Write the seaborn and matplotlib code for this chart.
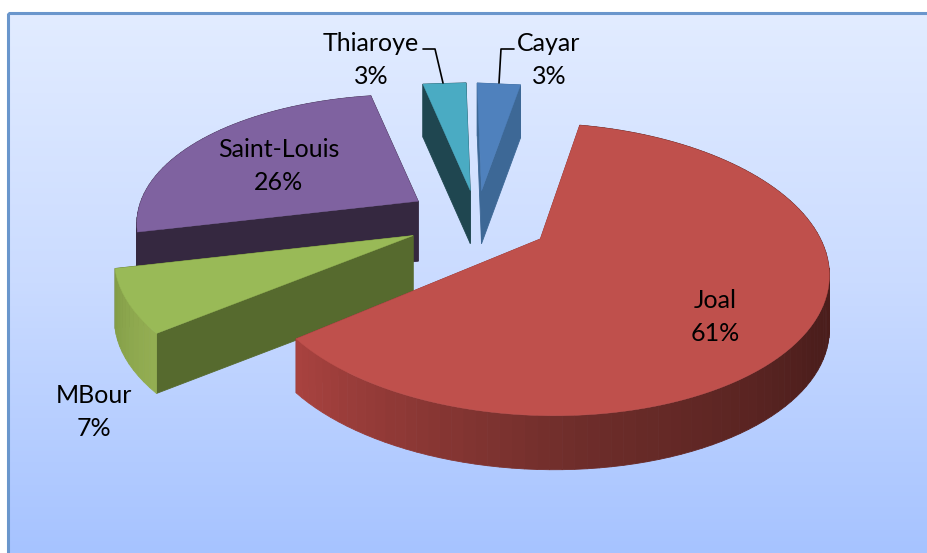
import numpy as np
import matplotlib
matplotlib.use("Agg")
import matplotlib.pyplot as plt
from matplotlib.patches import Rectangle
import seaborn as sns

# Data
labels = ["Joal", "MBour", "Saint-Louis", "Thiaroye", "Cayar"]
values = [61, 7, 26, 3, 3]

# Slice look
top_colors = ["#BF504C", "#99BA57", "#7F62A0", "#4AABC3", "#4F81BD"]
cut_colors = ["#8C3A38", "#566A2E", "#352840", "#1F4650", "#3D6896"]
wall_stops = [
    ["#451B19", "#451B19", "#4C1E1C", "#6E2D2A", "#A8423F"],
    ["#93AE52", "#849E48"],
    ["#352840", "#352840"],
    ["#1F4650", "#1F4650"],
    ["#3D6896", "#3D6896"],
]
explode = [0.25, 0.25, 0.25, 0.22, 0.22]
scale_x = [0.99, 1.04, 0.98, 0.98, 0.98]
scale_y = [1.0, 0.98, 0.92, 0.93, 0.93]
depth = [54, 60, 60, 53, 53]
draw_order = [2, 1, 3, 4, 0]

# Pie geometry in pixels
start_deg = 12
cx, cy = 477, 220
rx, ry = 283, 140
persp = 0.208
shear = 0.08

sns.set_theme(style="white")
plt.rcParams["font.family"] = ["Lato", "DejaVu Sans"]

fig = plt.figure(figsize=(9.27, 5.53), dpi=100)
ax = fig.add_axes([0, 0, 1, 1])

# Chart area with the blue gradient
grad = np.array(sns.blend_palette(["#E2ECFF", "#CADBFF", "#A6C3FF"], 256))[:, None, :]
ax.imshow(grad, extent=[8, 927, 553, 13], aspect="auto", zorder=0)
ax.add_patch(Rectangle((8, 13), 930, 560, fill=False, ec="#6A96CC", lw=2.2, zorder=1))
ax.set_xlim(0, 927)
ax.set_ylim(553, 0)
ax.axis("off")


def project(deg, r=1.0):
    phi = np.radians(deg)
    u, v = r * np.sin(phi), -r * np.cos(phi)
    w = 1 - persp * v
    x, y = rx * u / w, ry * v / w
    return x + shear * y, y


def quad(xa, ya, xb, yb, d, color, z):
    ax.fill([xa, xb, xb, xa], [ya, yb, yb + d, ya + d], color=color, lw=0.6, zorder=z)


edges = start_deg + np.concatenate([[0], np.cumsum(values)]) * 3.6

for rank, i in enumerate(draw_order):
    a0, a1 = edges[i], edges[i + 1]
    tx, ty = project((a0 + a1) / 2, explode[i])
    tx, ty = tx + cx, ty + cy
    z = 2 + rank
    sx, sy, d = scale_x[i], scale_y[i], depth[i]

    # Cut faces first, they are overpainted where they face away
    for a in (a0, a1):
        ex, ey = project(a)
        quad(tx, ty, tx + sx * ex, ty + sy * ey, d, cut_colors[i], z)

    # The narrow slices get a straight outer edge, the others a fine rim
    count = 2 if a1 - a0 < 15 else int((a1 - a0) / 2)
    steps = np.linspace(a0, a1, count)
    px, py = project(steps)
    px, py = tx + sx * px, ty + sy * py

    # Outer wall in strips, so that the shading can run round the rim
    shades = sns.blend_palette(wall_stops[i], count - 1)
    for k in range(count - 1):
        quad(px[k], py[k], px[k + 1], py[k + 1], d, shades[k], z)

    # Top face
    ax.fill(np.r_[tx, px], np.r_[ty, py], color=top_colors[i], lw=0.3, zorder=z)

# Data labels
label_pos = [(715, 317), (94, 412), (279, 166), (371, 60), (549, 60)]
for name, val, (lx, ly) in zip(labels, values, label_pos):
    ax.text(lx, ly, f"{name}\n{val}%", ha="center", va="center", fontsize=18,
            color="black", linespacing=1.48, zorder=20)

# Leader lines of the two small slices
ax.plot([423, 435, 443], [49, 49, 83], color="black", lw=1.2, zorder=20)
ax.plot([514, 501, 499], [49, 49, 83], color="black", lw=1.2, zorder=20)

fig.savefig("out.png", dpi=100)
